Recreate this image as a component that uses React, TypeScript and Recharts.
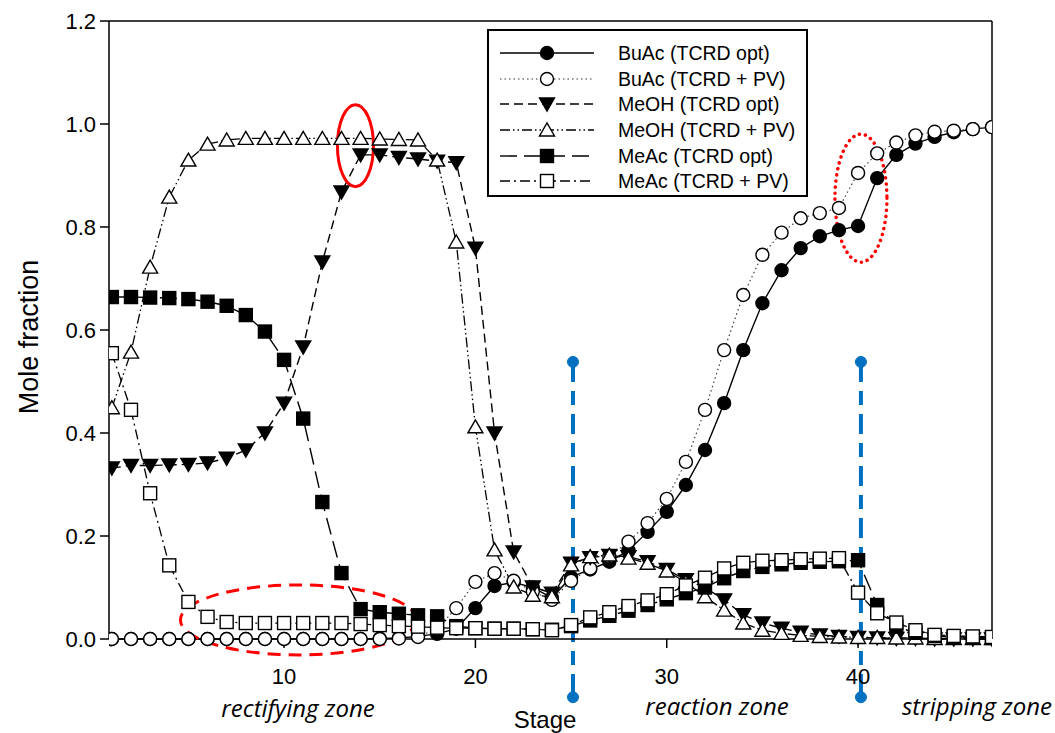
import React from "react";
import {
  LineChart,
  Line,
  XAxis,
  YAxis,
  Legend,
  ReferenceLine,
  ReferenceDot,
} from "recharts";

// ---------- data ----------
const stages = [
  1, 2, 3, 4, 5, 6, 7, 8, 9, 10, 11, 12, 13, 14, 15, 16, 17, 18, 19, 20, 21, 22, 23, 24,
  25, 26, 27, 28, 29, 30, 31, 32, 33, 34, 35, 36, 37, 38, 39, 40, 41, 42, 43, 44, 45, 46, 47,
];

const buacOpt = [
  0, 0, 0, 0, 0, 0, 0, 0, 0, 0, 0, 0, 0, 0, 0.001, 0.002, 0.005, 0.01, 0.02, 0.06, 0.103,
  0.11, 0.1, 0.08, 0.12, 0.135, 0.15, 0.172, 0.208, 0.247, 0.299, 0.367, 0.458, 0.561, 0.652,
  0.716, 0.759, 0.782, 0.794, 0.802, 0.895, 0.94, 0.962, 0.975, 0.984, 0.99, 0.994,
];

const buacPv = [
  0, 0, 0, 0, 0, 0, 0, 0, 0, 0, 0, 0, 0, 0, 0, 0.001, 0.004, 0.02, 0.06, 0.111, 0.128,
  0.113, 0.092, 0.076, 0.113, 0.137, 0.16, 0.189, 0.225, 0.272, 0.344, 0.445, 0.561, 0.668,
  0.746, 0.789, 0.817, 0.827, 0.837, 0.905, 0.943, 0.964, 0.978, 0.985, 0.987, 0.99, 0.994,
];

const meohOpt = [
  0.332, 0.337, 0.337, 0.338, 0.339, 0.342, 0.351, 0.367, 0.4, 0.458, 0.567, 0.732, 0.868,
  0.94, 0.94, 0.935, 0.932, 0.928, 0.925, 0.759, 0.4, 0.169, 0.101, 0.089, 0.147, 0.158,
  0.162, 0.16, 0.15, 0.135, 0.115, 0.1, 0.076, 0.047, 0.031, 0.021, 0.013, 0.008, 0.005,
  0.003, 0.002, 0.001, 0.001, 0, 0, 0, 0,
];

const meohPv = [
  0.449, 0.557, 0.722, 0.858, 0.93, 0.961, 0.969, 0.972, 0.972, 0.972, 0.972, 0.972, 0.972,
  0.972, 0.971, 0.97, 0.969, 0.93, 0.771, 0.412, 0.173, 0.101, 0.085, 0.082, 0.144, 0.16,
  0.163, 0.157, 0.147, 0.132, 0.11, 0.082, 0.056, 0.031, 0.017, 0.011, 0.007, 0.005, 0.004,
  0.003, 0.003, 0.002, 0.002, 0.001, 0.001, 0.001, 0.001,
];

const meacOpt = [
  0.664, 0.664, 0.663, 0.662, 0.66, 0.655, 0.647, 0.629, 0.597, 0.542, 0.428, 0.266, 0.128,
  0.058, 0.052, 0.049, 0.046, 0.044, 0.025, 0.021, 0.02, 0.02, 0.019, 0.018, 0.025, 0.036,
  0.045, 0.055, 0.066, 0.077, 0.089, 0.1, 0.118, 0.132, 0.14, 0.145, 0.148, 0.15, 0.151,
  0.153, 0.066, 0.024, 0.012, 0.006, 0.004, 0.003, 0.002,
];

const meacPv = [
  0.555, 0.445, 0.283, 0.143, 0.072, 0.043, 0.033, 0.031, 0.031, 0.031, 0.031, 0.031, 0.031,
  0.029, 0.027, 0.025, 0.024, 0.022, 0.021, 0.021, 0.02, 0.02, 0.019, 0.017, 0.027, 0.042,
  0.052, 0.064, 0.075, 0.087, 0.104, 0.119, 0.137, 0.148, 0.152, 0.153, 0.155, 0.156, 0.157,
  0.09, 0.05, 0.032, 0.017, 0.008, 0.006, 0.005, 0.004,
];

const xTicks = [10, 20, 30, 40];
const yTicks = [0, 0.2, 0.4, 0.6, 0.8, 1.0, 1.2];

const zoneBoundaries = [25.1, 40.15];

const data = stages.map((s, i) => ({
  stage: s,
  buacOpt: buacOpt[i],
  buacPv: buacPv[i],
  meohOpt: meohOpt[i],
  meohPv: meohPv[i],
  meacOpt: meacOpt[i],
  meacPv: meacPv[i],
}));

type MarkerKind =
  | "circleFilled"
  | "circleOpen"
  | "triDown"
  | "triUp"
  | "squareFilled"
  | "squareOpen";

const series: {
  key: string;
  name: string;
  dash: string;
  marker: MarkerKind;
  width: number;
  color: string;
}[] = [
  { key: "buacOpt", name: "BuAc (TCRD opt)", dash: "", marker: "circleFilled", width: 1.4, color: "#000" },
  { key: "buacPv", name: "BuAc (TCRD + PV)", dash: "1.5 3", marker: "circleOpen", width: 1.1, color: "#333" },
  { key: "meohOpt", name: "MeOH (TCRD opt)", dash: "9 5", marker: "triDown", width: 1.4, color: "#000" },
  { key: "meohPv", name: "MeOH (TCRD + PV)", dash: "10 3 1.5 3 1.5 3", marker: "triUp", width: 1.3, color: "#000" },
  { key: "meacOpt", name: "MeAc (TCRD opt)", dash: "17 7", marker: "squareFilled", width: 1.4, color: "#000" },
  { key: "meacPv", name: "MeAc (TCRD + PV)", dash: "10 4 2 4", marker: "squareOpen", width: 1.3, color: "#000" },
];

function drawMarker(kind: MarkerKind, cx: number, cy: number, key?: any) {
  const sw = 1.4;
  switch (kind) {
    case "circleFilled":
      return <circle key={key} cx={cx} cy={cy} r={6.5} fill="#000" stroke="#000" strokeWidth={sw} />;
    case "circleOpen":
      return <circle key={key} cx={cx} cy={cy} r={6.5} fill="#fff" stroke="#000" strokeWidth={sw} />;
    case "triDown":
      return (
        <path
          key={key}
          d={`M${cx - 7.5},${cy - 6} L${cx + 7.5},${cy - 6} L${cx},${cy + 7} Z`}
          fill="#000"
          stroke="#000"
          strokeWidth={sw}
          strokeLinejoin="miter"
        />
      );
    case "triUp":
      return (
        <path
          key={key}
          d={`M${cx - 7.5},${cy + 6} L${cx + 7.5},${cy + 6} L${cx},${cy - 7} Z`}
          fill="#fff"
          stroke="#000"
          strokeWidth={sw}
        />
      );
    case "squareFilled":
      return <rect key={key} x={cx - 6.5} y={cy - 6.5} width={13} height={13} fill="#000" stroke="#000" strokeWidth={sw} />;
    case "squareOpen":
    default:
      return <rect key={key} x={cx - 6.5} y={cy - 6.5} width={13} height={13} fill="#fff" stroke="#000" strokeWidth={sw} />;
  }
}

const makeDot = (kind: MarkerKind) => (props: any) => {
  const { cx, cy, index } = props;
  if (cx == null || cy == null) return <g key={`e-${index}`} />;
  return drawMarker(kind, cx, cy, `${kind}-${index}`);
};

const LegendBox = () => {
  const rowY = [24, 50, 75, 101, 127, 152];
  return (
    <svg width={321} height={168} style={{ display: "block" }}>
      <rect x={1} y={1} width={319} height={166} fill="#fff" stroke="#000" strokeWidth={2} />
      {series.map((s, i) => (
        <g key={s.key}>
          <line
            x1={13}
            x2={107}
            y1={rowY[i]}
            y2={rowY[i]}
            stroke={s.color}
            strokeWidth={s.width}
            strokeDasharray={s.dash || undefined}
          />
          {drawMarker(s.marker, 60, rowY[i])}
          <text
            x={131}
            y={rowY[i]}
            dominantBaseline="central"
            fontFamily="'Liberation Sans', Arial, sans-serif"
            fontSize={19.5}
            fill="#000"
          >
            {s.name}
          </text>
        </g>
      ))}
    </svg>
  );
};

const ellipse =
  (rx: number, ry: number, dash: string, cap: "butt" | "round", sw: number) => (p: any) => {
    if (p.cx == null || p.cy == null) return <g />;
    return (
      <ellipse
        cx={p.cx}
        cy={p.cy}
        rx={rx}
        ry={ry}
        fill="none"
        stroke="#FF0000"
        strokeWidth={sw}
        strokeDasharray={dash || undefined}
        strokeLinecap={cap}
      />
    );
  };

const BLUE = "#0070C0";
const FONT = "'Liberation Sans', Arial, sans-serif";
const ZONE_FONT = "'Open Sans', sans-serif";

export default function App() {
  return (
    <div style={{ position: "absolute", left: 0, top: 0, width: 1055, height: 733, background: "#fff" }}>
      <LineChart
        width={1055}
        height={733}
        data={data}
        margin={{ top: 21, right: 63, left: 49, bottom: 34 }}
      >
        <XAxis
          dataKey="stage"
          type="number"
          domain={[0.85, 47]}
          ticks={xTicks}
          allowDataOverflow
          tickSize={9}
          tickMargin={20}
          height={60}
          stroke="#000"
          strokeWidth={1.5}
          tick={{ fill: "#000", fontSize: 22, fontFamily: FONT }}
        />
        <YAxis
          type="number"
          domain={[0, 1.2]}
          ticks={yTicks}
          tickFormatter={(v: number) => v.toFixed(1)}
          tickSize={9}
          tickMargin={4}
          width={60}
          stroke="#000"
          strokeWidth={1.5}
          tick={{ fill: "#000", fontSize: 22, fontFamily: FONT }}
        />
        <ReferenceLine y={1.2} stroke="#000" strokeWidth={1.5} ifOverflow="visible" />
        <ReferenceLine x={47} stroke="#000" strokeWidth={1.5} ifOverflow="visible" />
        {series.map((s) => (
          <Line
            key={s.key}
            dataKey={s.key}
            name={s.name}
            type="linear"
            stroke={s.color}
            strokeWidth={s.width}
            strokeDasharray={s.dash || undefined}
            dot={makeDot(s.marker)}
            activeDot={false}
            isAnimationActive={false}
          />
        ))}
        {zoneBoundaries.map((x) => (
          <ReferenceLine
            key={`b-${x}`}
            segment={[
              { x, y: 0.538 },
              { x, y: -0.113 },
            ]}
            stroke={BLUE}
            strokeWidth={4}
            strokeDasharray="20 9 14 9"
            ifOverflow="visible"
          />
        ))}
        {zoneBoundaries.map((x) => (
          <ReferenceDot key={`t-${x}`} x={x} y={0.538} r={5.5} fill={BLUE} stroke={BLUE} ifOverflow="visible" />
        ))}
        {zoneBoundaries.map((x) => (
          <ReferenceDot key={`d-${x}`} x={x} y={-0.113} r={5.5} fill={BLUE} stroke={BLUE} ifOverflow="visible" />
        ))}
        <ReferenceDot x={13.73} y={0.958} r={1} ifOverflow="visible" shape={ellipse(18, 41, "", "butt", 3)} />
        <ReferenceDot x={10.75} y={0.037} r={1} ifOverflow="visible" shape={ellipse(118, 35, "13 8", "butt", 3)} />
        <ReferenceDot x={40.15} y={0.856} r={1} ifOverflow="visible" shape={ellipse(26, 64, "0.1 6", "round", 3.5)} />
        <Legend
          layout="vertical"
          align="center"
          verticalAlign="middle"
          content={() => <LegendBox />}
          wrapperStyle={{ position: "absolute", left: 487, top: 29, width: 321, height: 168 }}
        />
      </LineChart>
      <svg
        width={1055}
        height={733}
        style={{ position: "absolute", left: 0, top: 0, pointerEvents: "none" }}
      >
        <text
          x={29}
          y={337}
          transform="rotate(-90 29 337)"
          textAnchor="middle"
          dominantBaseline="central"
          fontFamily={FONT}
          fontSize={27}
          fill="#000"
        >
          Mole fraction
        </text>
        <text x={545} y={719} textAnchor="middle" dominantBaseline="central" fontFamily={FONT} fontSize={24} fill="#000">
          Stage
        </text>
        <text x={298} y={707} textAnchor="middle" dominantBaseline="central" fontFamily={ZONE_FONT} fontStyle="italic" fontSize={24} fill="#000">
          rectifying zone
        </text>
        <text x={717} y={705} textAnchor="middle" dominantBaseline="central" fontFamily={ZONE_FONT} fontStyle="italic" fontSize={24} fill="#000">
          reaction zone
        </text>
        <text x={977} y={705} textAnchor="middle" dominantBaseline="central" fontFamily={ZONE_FONT} fontStyle="italic" fontSize={24} fill="#000">
          stripping zone
        </text>
      </svg>
    </div>
  );
}
